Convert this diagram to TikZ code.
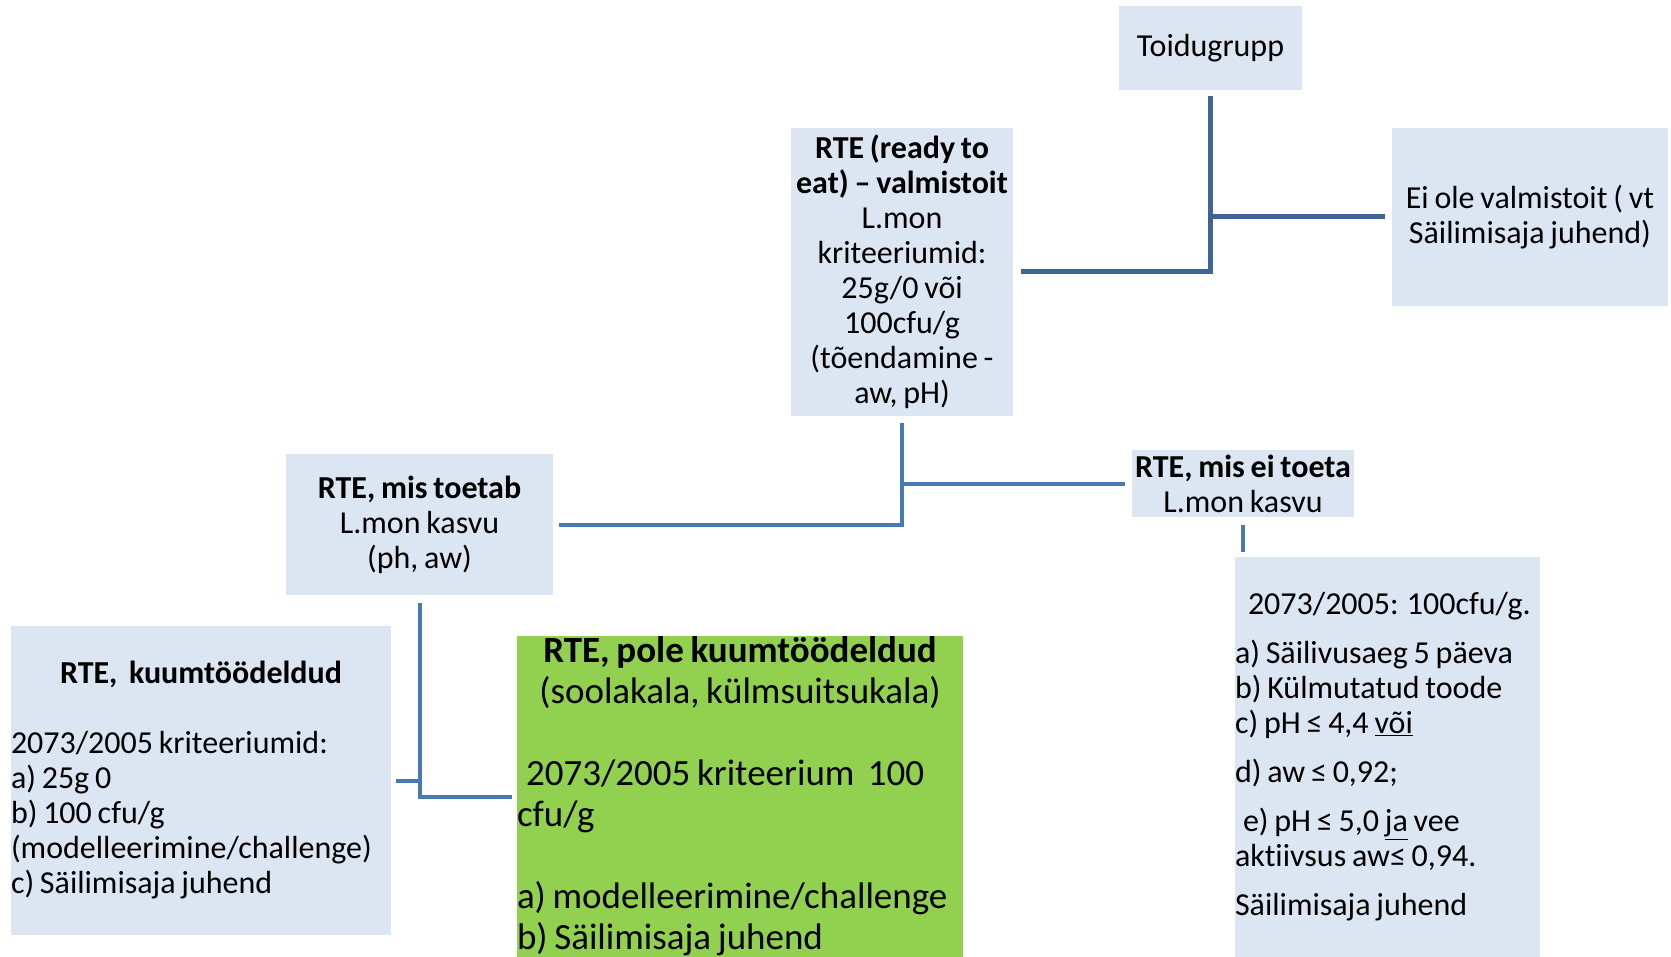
\documentclass[tikz,border=0pt]{standalone}
\usepackage{fontspec}
\setmainfont{Carlito}[Ligatures=NoCommon,WordSpace={0.8,0.3,0.3}]
\definecolor{boxblue}{RGB}{220,230,242}
\definecolor{boxgreen}{RGB}{146,208,80}
\definecolor{linkdark}{RGB}{62,100,150}
\definecolor{linkblue}{RGB}{74,122,180}
\begin{document}
\begin{tikzpicture}[x=1pt,y=-1pt,
  box/.style={fill=boxblue,inner sep=0pt,align=center,font=\fontsize{32}{35}\selectfont,
    execute at begin node={\spaceskip=0pt\xspaceskip=0pt}},
  greenbox/.style={box,fill=boxgreen,font=\fontsize{37}{41}\selectfont},
  link/.style={draw=linkblue,line width=4pt},
  toplink/.style={draw=linkdark,line width=5pt}]
 \useasboundingbox (0,0) rectangle (1671,957);
 \node[box,minimum width=183pt,minimum height=84pt] (grp) at (1210.5,48) {Toidugrupp};
 \node[box,minimum width=276pt,minimum height=178pt] (eiole) at (1530,217)
   {Ei ole valmistoit ( vt\\Säilimisaja juhend)};
 \node[box,minimum width=222pt,minimum height=288pt] (ready) at (902,272)
   {\textbf{RTE (ready to}\\\textbf{eat) -- valmistoit}\\L.mon\\kriteeriumid:\\25g/0 või\\100cfu/g\\(tõendamine -\\aw, pH)};
 \node[box,minimum width=267pt,minimum height=141pt] (toetab) at (419.5,524.5)
   {\textbf{RTE, mis toetab}\\L.mon kasvu\\(ph, aw)};
 \node[box,minimum width=222pt,minimum height=67pt] (eitoeta) at (1243,483.5)
   {\textbf{RTE, mis ei toeta}\\L.mon kasvu};
 \node[box,align=left,text width=380pt,minimum height=309pt] (kuum) at (201,780.5)
   {\makebox[\linewidth]{\textbf{RTE,\ \ kuumtöödeldud}}\\[35pt]2073/2005 kriteeriumid:\\a) 25g 0\\b) 100 cfu/g\\(modelleerimine/challenge)\\c) Säilimisaja juhend};
 \node[greenbox,align=left,text width=446pt,minimum height=321pt] (pole) at (740,796.5)
   {\makebox[\linewidth]{\textbf{RTE, pole kuumtöödeldud}}\\\makebox[\linewidth]{(soolakala, külmsuitsukala)}\\[41pt]\hspace*{9pt}2073/2005 kriteerium\ \ 100\\cfu/g\\[41pt]a) modelleerimine/challenge\\b) Säilimisaja juhend};
 \node[box,align=left,text width=305pt,minimum height=400pt] (nouded) at (1387.5,757)
   {\hspace*{13pt}2073/2005: 100cfu/g.\\[14pt]a) Säilivusaeg 5 päeva\\b) Külmutatud toode\\c) pH ≤ 4,4 \underline{või}\\[14pt]d) aw ≤ 0,92;\\[14pt]\hspace*{8pt}e) pH ≤ 5,0 \underline{ja} vee\\aktiivsus aw≤ 0,94.\\[14pt]Säilimisaja juhend};
 \draw[toplink] ([yshift=-6pt]grp.south) |- ([xshift=8pt]ready.east);
 \draw[toplink] (grp.south |- eiole.west) -- ([xshift=-7pt]eiole.west);
 \draw[link] ([yshift=-7pt]ready.south) |- ([xshift=6pt]toetab.east);
 \draw[link] (ready.south |- eitoeta.west) -- ([xshift=-7pt]eitoeta.west);
 \draw[link] ([yshift=-8pt]toetab.south) |- ([xshift=-5pt]pole.west);
 \draw[link] ([xshift=5pt]kuum.east) -- (toetab.south |- kuum.east);
 \draw[link] ([yshift=-8pt]eitoeta.south) -- ([yshift=5pt]eitoeta.south |- nouded.north);
\end{tikzpicture}
\end{document}
